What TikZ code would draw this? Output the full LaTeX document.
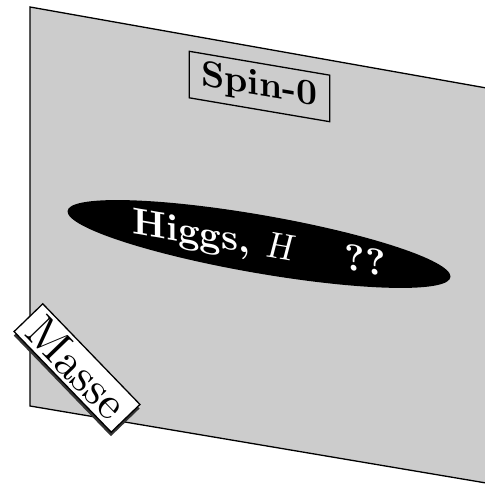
\documentclass[tikz,border=0pt]{standalone}
\usepackage{fontspec}
\setmainfont{lmroman10-regular.otf}[BoldFont=lmroman10-bold.otf, ItalicFont=lmroman10-italic.otf, BoldItalicFont=lmroman10-bolditalic.otf]
\usetikzlibrary{shadows}
\definecolor{planegray}{RGB}{204,204,204}
\tikzset{
  labelbox/.style={draw=black, line width=1.3pt, inner xsep=12pt, inner ysep=7pt, font=\fontsize{36.5}{40}\selectfont\bfseries, transform shape},
  blob/.style={fill=black},
  blobtext/.style={text=white, font=\fontsize{37.5}{42}\selectfont\bfseries, transform shape},
  tagbox/.style={draw=black, fill=white, line width=1.3pt, inner xsep=9pt, inner ysep=4pt, font=\fontsize{46}{50}\selectfont,
    drop shadow={fill=black!80, opacity=1, shadow xshift=-0.3pt, shadow yshift=-4pt}}
}
\begin{document}
\begin{tikzpicture}[x=1pt,y=1pt]
\useasboundingbox (0,0) rectangle (485,484);
% plane
\coordinate (p1) at (30,477);
\coordinate (p2) at (492,395);
\coordinate (p3) at (492,0);
\coordinate (p4) at (30,78);
\fill[planegray] (p2) -- (p3) -- (p4) -- (p1) -- cycle;
\draw[line width=1.3pt] (p3) -- (p4) -- (p1) -- (p2);
% Spin-0 label on plane
\begin{scope}[shift={(259.5,397.5)}, yslant=-0.17]
  \node[labelbox] (spin) at (0,0) {Spin-0};
\end{scope}
% Higgs blob on plane
\begin{scope}[shift={(259,240)}, yslant=-0.17]
  \fill[blob] (0,0) ellipse (191.5 and 29.5);
  \node[blobtext] (higgs) at (0,-2) {Higgs, {\mdseries\itshape H}\hspace{1.4em}??};
\end{scope}
% Masse tag
\node[tagbox, rotate=-46] (masse) at (77,116) {Masse};
\end{tikzpicture}
\end{document}
